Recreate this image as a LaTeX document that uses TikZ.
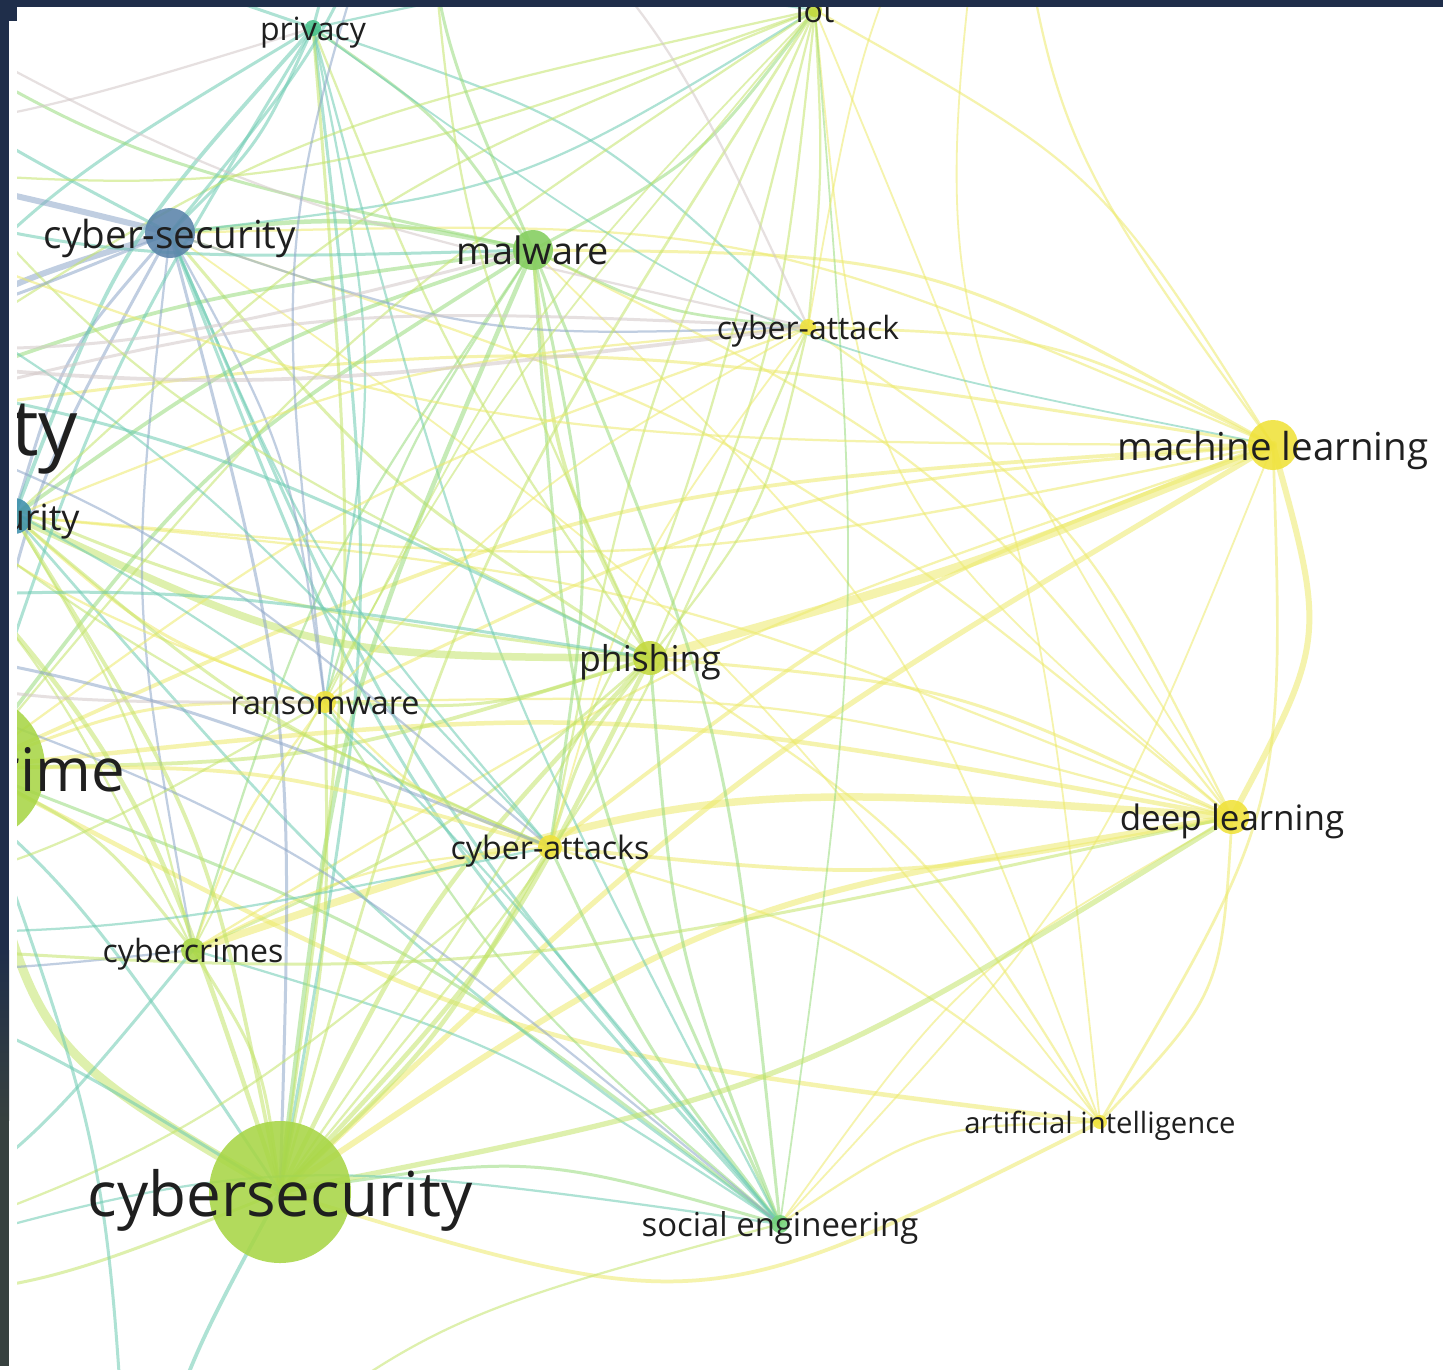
\documentclass[tikz,border=0pt]{standalone}
\usepackage{fontspec}
\setmainfont{Open Sans}
\usepackage{xcolor}
\usepackage{tikz}
\usetikzlibrary{calc}
\pgfdeclarelayer{edges}
\pgfsetlayers{edges,main}

\definecolor{framenavy}{HTML}{1F2E4A}
\definecolor{framegrey}{HTML}{37413F}
\definecolor{nodeblue}{HTML}{5A84AA}
\definecolor{nodeteal}{HTML}{3E90AC}
\definecolor{nodeprivacy}{HTML}{48C28C}
\definecolor{nodegreen}{HTML}{84CE5E}
\definecolor{nodesocial}{HTML}{74D27A}
\definecolor{nodelime}{HTML}{A8D646}
\definecolor{nodeolive}{HTML}{C4D93E}
\definecolor{nodeyellow}{HTML}{F0E23A}
\definecolor{eyellow}{HTML}{EDEA6A}
\definecolor{elime}{HTML}{C3E46A}
\definecolor{egreen}{HTML}{98DB7C}
\definecolor{eteal}{HTML}{6CCBB2}
\definecolor{eblue}{HTML}{8DA6C9}
\definecolor{egrey}{HTML}{D3C8C8}

\begin{document}
\begin{tikzpicture}[x=1pt,y=-1pt,
    kw/.style={circle,inner sep=0pt,minimum size=#1,fill opacity=.88},
    lbl/.style={font=\fontsize{#1}{#1}\selectfont,text=black!88,inner sep=0pt,
                text height={.9*#1},text depth={.12*#1}},
    edge/.style={draw opacity=.55,line cap=round}]
\useasboundingbox (0,0) rectangle (1443,1369);

\begin{scope}
\clip (17,7) rectangle (1443,1369);
% keywords
\node[kw=150,fill=nodeblue,label={[lbl=78]center:cyber security}] (cybsecbig) at (-174,425) {};
\node[kw=150,fill=nodelime,label={[lbl=60]center:cybercrime}] (cybercrime) at (-30,768) {};
\node[kw=36,fill=nodeteal,label={[lbl=36]center:security}] (security) at (14,516) {};
\node[kw=16,fill=nodeprivacy,label={[lbl=32]center:privacy}] (privacy) at (313,28) {};
\node[kw=14,fill=nodeolive,label={[lbl=32]center:iot}] (iot) at (815,10) {};
\node[kw=50,fill=nodeblue,label={[lbl=38.6]center:cyber-security}] (cybsec) at (170,233) {};
\node[kw=40,fill=nodegreen,label={[lbl=37.8]center:malware}] (malware) at (533,250) {};
\node[kw=16,fill=nodeyellow,label={[lbl=32]center:cyber-attack}] (attack) at (808,327) {};
\node[kw=50,fill=nodeyellow,label={[lbl=38.5]center:machine learning}] (ml) at (1273,445) {};
\node[kw=34,fill=nodeolive,label={[lbl=35.6]center:phishing}] (phishing) at (650,658) {};
\node[kw=22,fill=nodeyellow,label={[lbl=32.3]center:ransomware}] (ransom) at (325,702) {};
\node[kw=34,fill=nodeyellow,label={[lbl=35]center:deep learning}] (dl) at (1232,817) {};
\node[kw=24,fill=nodeyellow,label={[lbl=32.2]center:cyber-attacks}] (attacks) at (550,847) {};
\node[kw=24,fill=nodelime,label={[lbl=32]center:cybercrimes}] (cybercrimes) at (193,950) {};
\node[kw=14,fill=nodeyellow,label={[lbl=29.3]center:artificial intelligence}] (ai) at (1100,1122) {};
\node[kw=142,fill=nodelime,label={[lbl=62]center:cybersecurity}] (cybersec) at (280,1192) {};
\node[kw=18,fill=nodesocial,label={[lbl=32.9]center:social engineering}] (socialeng) at (780,1224) {};
% keywords outside the window
\coordinate (offa) at (-260,-80);
\coordinate (offb) at (-320,150);
\coordinate (offc) at (-330,340);
\coordinate (offd) at (-320,610);
\coordinate (offe) at (-330,930);
\coordinate (offf) at (-250,1300);
\coordinate (offg) at (130,1560);
\coordinate (offh) at (420,-220);
\coordinate (offi) at (1000,-250);
\end{scope}

\begin{pgfonlayer}{edges}
\fill[white] (0,0) rectangle (1443,1369);
\clip (17,7) rectangle (1443,1369);
% machine learning
\foreach \t/\w/\b in {iot/1.5/-14, cybsec/1.5/-12, malware/2/-14, attack/1.8/-12, phishing/6/3,
    dl/4/22, ai/1.8/16, cybersec/3.5/-6, attacks/2.5/-8, cybercrime/2.5/-10, ransom/2/-10,
    socialeng/1.2/10, cybercrimes/1.5/-6, cybsecbig/2/-8, security/1.6/8}
  \draw[edge,eyellow,line width={1.5*\w}] (ml.center) .. controls ($(ml.center)!.5!(\t.center)!{\b/55}!90:(\t.center)$) .. (\t.center);
% deep learning
\foreach \t/\w/\b in {cybercrime/3/-8, cybercrimes/5/-11, cybersec/4/-12, phishing/2/-10, attacks/2.5/8,
    malware/1.5/-12, attack/1.5/-14, ai/1.8/20, socialeng/1.2/-12, cybsec/1.5/-10, ransom/1.5/-8,
    iot/1.2/22, security/1.5/-8}
  \draw[edge,eyellow,line width={1.5*\w}] (dl.center) .. controls ($(dl.center)!.5!(\t.center)!{\b/55}!90:(\t.center)$) .. (\t.center);
% artificial intelligence
\foreach \t/\w/\b in {cybersec/2.5/22, cybercrime/3/10, phishing/1.5/-12, attacks/1.5/-10,
    malware/1.2/-12, iot/1.2/-8, socialeng/1.5/-16, cybsec/1.2/-8}
  \draw[edge,eyellow,line width={1.5*\w}] (ai.center) .. controls ($(ai.center)!.5!(\t.center)!{\b/55}!90:(\t.center)$) .. (\t.center);
% social engineering
\foreach \t/\w/\b/\c in {phishing/2/8/egreen, malware/2/10/egreen, cybsec/2/8/eteal, privacy/1.5/6/eteal,
    cybersec/2/-12/egreen, cybercrime/2/-8/egreen, security/1.8/6/eteal, ransom/1.5/8/egreen,
    attacks/2/6/egreen, cybercrimes/1.5/-8/eteal, iot/1.2/-6/egreen}
  \draw[edge,\c,line width={1.5*\w}] (socialeng.center) .. controls ($(socialeng.center)!.5!(\t.center)!{\b/55}!90:(\t.center)$) .. (\t.center);
% phishing
\foreach \t/\w/\b in {malware/2.5/10, cybsec/2/8, privacy/1.5/6, iot/1.5/-8, attack/1.5/-12,
    security/5/12, cybsecbig/2/8, ransom/2/10, attacks/2/-10, cybersec/3/-8, cybercrime/2.5/8,
    cybercrimes/1.8/8}
  \draw[edge,elime,line width={1.5*\w}] (phishing.center) .. controls ($(phishing.center)!.5!(\t.center)!{\b/55}!90:(\t.center)$) .. (\t.center);
% malware
\foreach \t/\w/\b in {cybsec/3/-8, privacy/2/-10, iot/2/-12, attack/1.8/-10, socialeng/2/8,
    cybersec/3/-8, cybercrime/2.5/-10, security/2.5/-8, cybsecbig/2.5/-6, ransom/1.5/-8,
    attacks/2/10, cybercrimes/1.5/-8}
  \draw[edge,egreen,line width={1.5*\w}] (malware.center) .. controls ($(malware.center)!.5!(\t.center)!{\b/55}!90:(\t.center)$) .. (\t.center);
% cyber-security
\foreach \t/\w/\b/\c in {cybsecbig/4/-12/eblue, security/2/-12/eblue, privacy/2/-10/eteal,
    iot/1.5/-12/eteal, attack/1.5/-10/eblue, cybercrime/2/-8/eblue, cybersec/2/8/eblue,
    cybercrimes/1.5/-8/eblue, ransom/1.5/10/eblue, attacks/1.5/-8/eteal, socialeng/2/-10/eteal}
  \draw[edge,\c,line width={1.5*\w}] (cybsec.center) .. controls ($(cybsec.center)!.5!(\t.center)!{\b/55}!90:(\t.center)$) .. (\t.center);
% privacy
\foreach \t/\w/\b in {cybsecbig/2/-8, security/2.5/-10, iot/1.5/10, attack/1.5/12, cybercrime/2/-6,
    cybersec/2/8, ml/1.2/-12, ransom/1.5/10}
  \draw[edge,eteal,line width={1.5*\w}] (privacy.center) .. controls ($(privacy.center)!.5!(\t.center)!{\b/55}!90:(\t.center)$) .. (\t.center);
% iot
\foreach \t/\w/\b in {cybsecbig/1.5/-10, security/1.5/-10, cybercrime/1.5/-8, cybersec/1.8/-8,
    attacks/1.5/-6, cybercrimes/1.2/-6, ransom/1.2/-8, attack/1.5/4}
  \draw[edge,elime,line width={1.5*\w}] (iot.center) .. controls ($(iot.center)!.5!(\t.center)!{\b/55}!90:(\t.center)$) .. (\t.center);
% cyber-attack, ransomware, cyber-attacks, cybercrimes
\foreach \s/\t/\w/\b/\c in {attack/cybsecbig/2/-8/egrey, attack/security/1.5/-8/eyellow,
    attack/cybercrime/1.5/-8/eyellow, attack/attacks/1.2/-10/eyellow, attack/ransom/1.2/-8/eyellow,
    ransom/cybercrime/2/-10/eyellow, ransom/cybsecbig/1.5/8/eyellow, ransom/security/2/10/eyellow,
    ransom/attacks/1.5/-12/eyellow, ransom/cybercrimes/1.5/-8/eyellow,
    attacks/cybercrime/2.5/-8/eyellow, attacks/security/2/8/elime, attacks/cybsecbig/1.5/6/elime,
    attacks/cybercrimes/1.5/-10/eyellow, cybercrimes/cybercrime/2/-12/elime,
    cybercrimes/security/1.5/-8/elime, cybercrimes/cybsecbig/1.5/-8/elime}
  \draw[edge,\c,line width={1.5*\w}] (\s.center) .. controls ($(\s.center)!.5!(\t.center)!{\b/55}!90:(\t.center)$) .. (\t.center);
% cybersecurity
\foreach \t/\w/\b in {cybercrime/6/24, cybsecbig/3/-12, security/2.5/-10, privacy/2/-6,
    iot/1.5/-10, attack/1.5/-8, dl/3.5/-10, phishing/3/-8, ransom/2/-6, attacks/3/-8,
    cybercrimes/2/-12}
  \draw[edge,elime,line width={1.5*\w}] (cybersec.center) .. controls ($(cybersec.center)!.5!(\t.center)!{\b/55}!90:(\t.center)$) .. (\t.center);
% left hand keywords
\foreach \s/\t/\w/\b/\c in {cybsecbig/security/3/-20/eblue, cybsecbig/cybercrime/3/-20/eteal,
    security/cybercrime/3/-12/eteal}
  \draw[edge,\c,line width={1.5*\w}] (\s.center) .. controls ($(\s.center)!.5!(\t.center)!{\b/55}!90:(\t.center)$) .. (\t.center);
% links to keywords outside the window
\foreach \s/\t/\w/\b/\c in {offa/cybsec/2/-8/eteal, offa/malware/2/-10/egreen, offa/privacy/2/8/eteal,
    offa/phishing/1.5/-12/elime, offa/attack/1.5/-8/egrey, offa/security/2/8/eteal,
    offb/cybsec/4/4/eblue, offb/malware/2/-8/eteal, offb/iot/1.5/-12/elime, offb/ml/1.5/-10/eyellow,
    offb/privacy/1.5/-6/egrey, offb/cybercrime/2/10/eteal, offb/attacks/1.5/8/eteal,
    offc/malware/2/-8/egrey, offc/attack/2.5/-6/egrey, offc/phishing/2/8/eteal, offc/attacks/1.5/10/eblue,
    offc/socialeng/1.5/12/eteal, offc/cybsec/2/-10/eblue,
    offd/phishing/2/6/eteal, offd/ransom/2/-8/egrey, offd/attacks/2/6/eblue, offd/cybersec/2/12/eteal,
    offd/socialeng/1.5/10/eblue,
    offe/cybersec/2/8/eteal, offe/cybercrimes/1.5/-8/eblue, offe/ransom/1.5/-10/elime,
    offe/attacks/1.5/-6/eteal, offe/dl/2/-8/elime,
    offf/cybersec/2/-10/elime, offf/cybercrimes/2/-12/eteal, offf/attacks/1.5/-10/elime,
    offf/socialeng/1.5/12/eteal,
    offg/cybersec/2.5/6/eteal, offg/cybercrime/2/-8/eteal, offg/socialeng/1.5/12/elime,
    offh/cybsec/2/10/eteal, offh/privacy/2/-8/eteal, offh/malware/2/-10/egreen, offh/iot/1.5/8/elime,
    offh/phishing/1.5/-10/elime, offh/ransom/1.5/-12/eblue, offh/attack/1.5/10/egrey,
    offi/ml/1.5/-14/eyellow, offi/dl/1.2/-20/eyellow, offi/iot/1.2/8/elime, offi/attack/1.2/-8/eyellow}
  \draw[edge,\c,line width={1.5*\w}] (\s) .. controls ($(\s)!.5!(\t.center)!{\b/55}!90:(\t.center)$) .. (\t.center);
\end{pgfonlayer}

% window frame
\fill[framenavy] (0,0) rectangle (1443,7);
\fill[framenavy] (0,7) rectangle (17,21);
\fill[framenavy] (0,7) rectangle (9,950);
\shade[top color=framenavy,bottom color=framegrey] (0,950) rectangle (9,1120);
\fill[framegrey] (0,1120) rectangle (9,1366);
\end{tikzpicture}
\end{document}
